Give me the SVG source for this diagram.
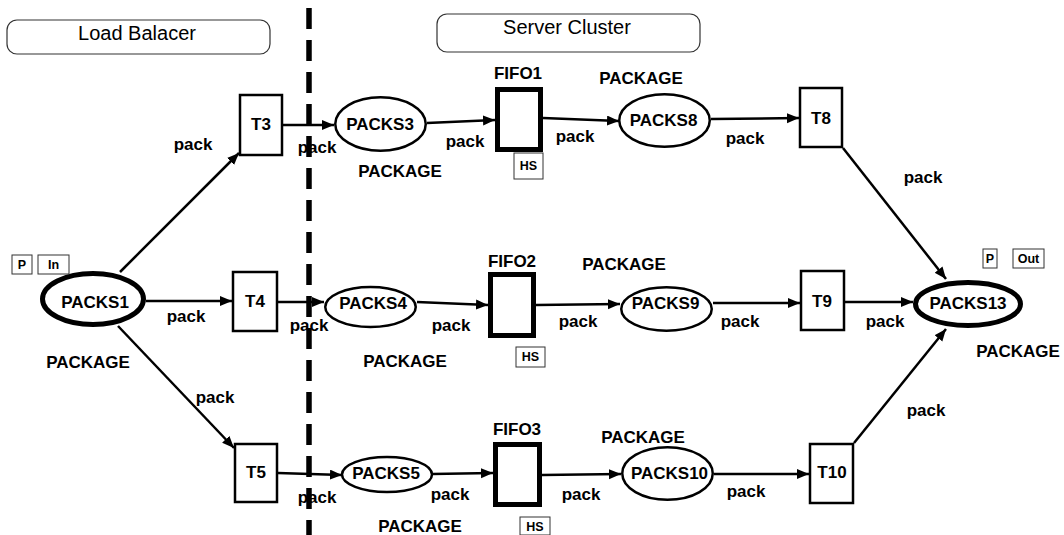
<svg xmlns="http://www.w3.org/2000/svg" width="1064" height="535" viewBox="0 0 1064 535">
<style>
text{font-family:"Liberation Sans",Arial,sans-serif;fill:#000}
.b{font-weight:bold;font-size:17px;text-anchor:middle}
.s{font-weight:bold;font-size:12.5px;text-anchor:middle}
.h{font-size:20px;text-anchor:middle}
.place{fill:#fff;stroke:#000;stroke-width:2.5}
.io{fill:#fff;stroke:#000;stroke-width:5}
.tr{fill:#fff;stroke:#000;stroke-width:2.5}
.fifo{fill:#fff;stroke:#000;stroke-width:5}
.tag{fill:#fff;stroke:#333;stroke-width:1}
.hdr{fill:#fff;stroke:#333;stroke-width:1.2}
.arc{stroke:#000;stroke-width:2.5;fill:none;marker-end:url(#ah)}
</style>
<defs>
<marker id="ah" markerUnits="userSpaceOnUse" markerWidth="13" markerHeight="11" refX="12" refY="5" orient="auto">
<path d="M0,0 L12,5 L0,10 z" fill="#000"/>
</marker>
</defs>
<rect width="1064" height="535" fill="#fff"/>
<g id="hdr-lb"><rect class="hdr" x="7" y="20" width="263" height="34" rx="10"/><text class="h" x="137" y="40">Load Balacer</text></g>
<g id="hdr-sc"><rect class="hdr" x="437" y="14" width="263" height="38" rx="10"/><text class="h" x="567" y="34">Server Cluster</text></g>
<line id="divider" x1="309" y1="8" x2="309" y2="535" stroke="#000" stroke-width="5.5" stroke-dasharray="21 11"/>
<g id="connectors">
<line class="arc" x1="120" y1="272" x2="239" y2="153"/>
<line class="arc" x1="146" y1="301" x2="232" y2="301"/>
<line class="arc" x1="118" y1="326" x2="234" y2="448"/>
<line class="arc" x1="283" y1="125" x2="334" y2="125"/>
<line class="arc" x1="278" y1="302" x2="324" y2="302"/>
<line class="arc" x1="278" y1="473" x2="342" y2="475"/>
<line class="arc" x1="427" y1="123" x2="495" y2="120"/>
<line class="arc" x1="417" y1="302" x2="488" y2="305"/>
<line class="arc" x1="432" y1="474" x2="493" y2="473"/>
<line class="arc" x1="543" y1="118" x2="619" y2="121"/>
<line class="arc" x1="536" y1="305" x2="620" y2="304"/>
<line class="arc" x1="542" y1="475" x2="621" y2="474"/>
<line class="arc" x1="711" y1="119" x2="799" y2="118"/>
<line class="arc" x1="713" y1="303" x2="800" y2="303"/>
<line class="arc" x1="714" y1="474" x2="809" y2="474"/>
<line class="arc" x1="843" y1="148" x2="946" y2="279"/>
<line class="arc" x1="845" y1="302" x2="913" y2="302"/>
<line class="arc" x1="854" y1="443" x2="946" y2="329"/>
<text class="b" x="193" y="150">pack</text>
<text class="b" x="186" y="322">pack</text>
<text class="b" x="215" y="403">pack</text>
<text class="b" x="317" y="153">pack</text>
<text class="b" x="309" y="331">pack</text>
<text class="b" x="317" y="503">pack</text>
<text class="b" x="465" y="147">pack</text>
<text class="b" x="451" y="331">pack</text>
<text class="b" x="450" y="500">pack</text>
<text class="b" x="575" y="142">pack</text>
<text class="b" x="578" y="327">pack</text>
<text class="b" x="581" y="500">pack</text>
<text class="b" x="745" y="144">pack</text>
<text class="b" x="740" y="327">pack</text>
<text class="b" x="746" y="497">pack</text>
<text class="b" x="923" y="183">pack</text>
<text class="b" x="885" y="327">pack</text>
<text class="b" x="926" y="416">pack</text>
</g>
<g id="PACKS1">
<ellipse class="io" cx="93" cy="299" rx="50.5" ry="25.5"/>
<text class="b" x="95" y="308">PACKS1</text>
<text class="b" x="88" y="368">PACKAGE</text>
<rect class="tag" x="12" y="255" width="20" height="19"/><text class="s" x="22" y="269">P</text>
<rect class="tag" x="38" y="255" width="31" height="19"/><text class="s" x="53.5" y="269">In</text>
</g>
<g id="T3"><rect class="tr" x="240" y="95" width="42" height="60"/><text class="b" x="261" y="130">T3</text></g>
<g id="T4"><rect class="tr" x="233" y="272" width="44" height="59"/><text class="b" x="255" y="307">T4</text></g>
<g id="T5"><rect class="tr" x="235" y="444" width="42" height="58"/><text class="b" x="256" y="478">T5</text></g>
<g id="PACKS3"><ellipse class="place" cx="380.5" cy="124" rx="45.25" ry="26.75"/><text class="b" x="380" y="130">PACKS3</text><text class="b" x="400" y="177">PACKAGE</text></g>
<g id="PACKS4"><ellipse class="place" cx="370.5" cy="307" rx="45.25" ry="20"/><text class="b" x="373" y="309">PACKS4</text><text class="b" x="405" y="367">PACKAGE</text></g>
<g id="PACKS5"><ellipse class="place" cx="387" cy="474.5" rx="45" ry="17.5"/><text class="b" x="386" y="479">PACKS5</text><text class="b" x="420" y="532">PACKAGE</text></g>
<g id="FIFO1"><rect class="fifo" x="497.5" y="89.5" width="43" height="60"/><text class="b" x="518" y="79">FIFO1</text><rect class="tag" x="514" y="153" width="29" height="26"/><text class="s" x="528.5" y="170">HS</text></g>
<g id="FIFO2"><rect class="fifo" x="490.5" y="274.5" width="43" height="61"/><text class="b" x="512" y="267">FIFO2</text><rect class="tag" x="516" y="347" width="29" height="20"/><text class="s" x="530.5" y="361">HS</text></g>
<g id="FIFO3"><rect class="fifo" x="495.5" y="444.5" width="44" height="60"/><text class="b" x="517" y="435">FIFO3</text><rect class="tag" x="520" y="517" width="30" height="18"/><text class="s" x="535" y="531">HS</text></g>
<g id="PACKS8"><ellipse class="place" cx="664.5" cy="120.5" rx="45.25" ry="26.25"/><text class="b" x="663.5" y="126">PACKS8</text><text class="b" x="641" y="84">PACKAGE</text></g>
<g id="PACKS9"><ellipse class="place" cx="666.5" cy="309" rx="45.25" ry="21.75"/><text class="b" x="665.5" y="309">PACKS9</text><text class="b" x="624" y="270">PACKAGE</text></g>
<g id="PACKS10"><ellipse class="place" cx="667.5" cy="473.5" rx="45.25" ry="26.25"/><text class="b" x="669.5" y="479">PACKS10</text><text class="b" x="643" y="443">PACKAGE</text></g>
<g id="T8"><rect class="tr" x="800" y="88" width="42" height="59"/><text class="b" x="821" y="124">T8</text></g>
<g id="T9"><rect class="tr" x="801" y="271" width="43" height="59"/><text class="b" x="822" y="307">T9</text></g>
<g id="T10"><rect class="tr" x="810" y="444" width="43" height="59"/><text class="b" x="832" y="478">T10</text></g>
<g id="PACKS13">
<ellipse class="io" cx="968" cy="304" rx="52.5" ry="21.5"/>
<text class="b" x="968" y="309">PACKS13</text>
<text class="b" x="1018" y="357">PACKAGE</text>
<rect class="tag" x="983" y="249" width="14" height="19"/><text class="s" x="990" y="263">P</text>
<rect class="tag" x="1013" y="249" width="31" height="19"/><text class="s" x="1028.5" y="263">Out</text>
</g>
</svg>
